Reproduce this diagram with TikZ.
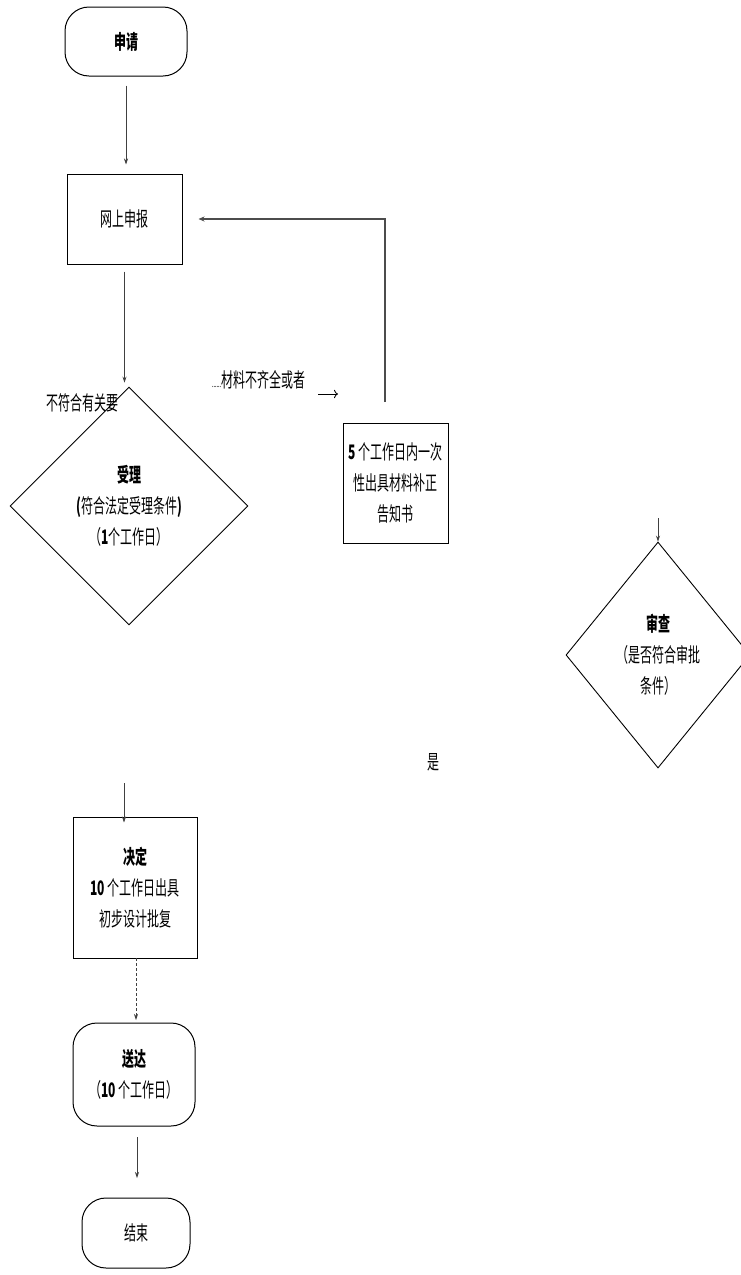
\documentclass[tikz,border=0pt]{standalone}
\usepackage{fontspec}
\newfontfamily\cjk[FakeStretch=0.6]{Noto Sans CJK SC}
\usetikzlibrary{shapes.geometric,arrows.meta}
\begin{document}
\begin{tikzpicture}[x=1pt,y=-1pt,
  every node/.style={font=\cjk\fontsize{20}{31}\selectfont, inner sep=0pt, align=center},
  term/.style={draw=black, line width=1pt, rounded corners=24pt},
  procbox/.style={draw=black, line width=1pt},
  decision/.style={draw=black, line width=0.9pt, shape=diamond},
  conn/.style={draw=black!75, line width=0.8pt, -{Stealth[length=6pt,width=4pt]}},
  retline/.style={draw=black!70, line width=1.6pt, -{Stealth[length=6pt,width=5pt]}},
  lbl/.style={font=\cjk\fontsize{20}{31}\selectfont}
]
\useasboundingbox (0,0) rectangle (741,1275);
\fill[white] (0,0) rectangle (741,1275);

% nodes
\node[term, minimum width=122pt, minimum height=69pt] (sq) at (126,41.5) {\textbf{申请}};
\node[procbox, minimum width=115pt, minimum height=90pt] (wsb) at (124.5,219) {网上申报};
\node[decision, minimum width=238pt, minimum height=238pt] (sl) at (129,506) {\textbf{受理}\\\textbf{(}符合法定受理条件\textbf{)}\\（\textbf{1}个工作日）};
\node[procbox, minimum width=105pt, minimum height=120pt] (bz) at (395.5,483) {\textbf{5}\,个工作日内一次\\性出具材料补正\\告知书};
\node[decision, minimum width=184pt, minimum height=226pt] (sc) at (658,655) {\textbf{审查}\\（是否符合审批\\条件）};
\node[procbox, minimum width=124pt, minimum height=141pt] (jd) at (135,887.5) {\textbf{决定}\\\textbf{10}\,个工作日出具\\初步设计批复};
\node[term, minimum width=122pt, minimum height=103pt] (sd) at (134,1074.5) {\textbf{送达}\\（\textbf{10}\,个工作日）};
\node[term, minimum width=108pt, minimum height=70pt] (js) at (136,1233) {结束};

% labels
\node[lbl] (bfh) at (82,403) {不符合有关要};
\node[lbl, anchor=west] (clb) at (212,380) {{\fontsize{9}{10}\selectfont ......}材料不齐全或者};
\node[lbl] (shi) at (433,762) {是};

% free ends
\coordinate (ret) at (385,402);
\coordinate (scin) at (658,518);
\coordinate (jdin) at (124,783);
\coordinate (smallA) at (318,394);
\coordinate (smallB) at (338,394);

% connectors
\draw[conn, shorten <=9pt, shorten >=9pt] (sq.south) -- (sq.south |- wsb.north);
\draw[conn, shorten <=7pt, shorten >=4pt] (wsb.south) -- (wsb.south |- sl.north);
\draw[retline, shorten >=16pt] (ret) |- (wsb.east);
\draw[conn] (scin) -- (sc.north);
\draw[conn, shorten >=-6pt] (jdin) -- (jdin |- jd.north);
\draw[conn, dashed, dash pattern=on 3pt off 2pt, shorten >=3pt] (136,958) -- (136,1023);
\draw[conn, shorten <=11pt, shorten >=20pt] (137,1126) -- (137,1198);
\draw[draw=black, line width=0.8pt, -{To[length=4pt]}] (smallA) -- (smallB);
\end{tikzpicture}
\end{document}
